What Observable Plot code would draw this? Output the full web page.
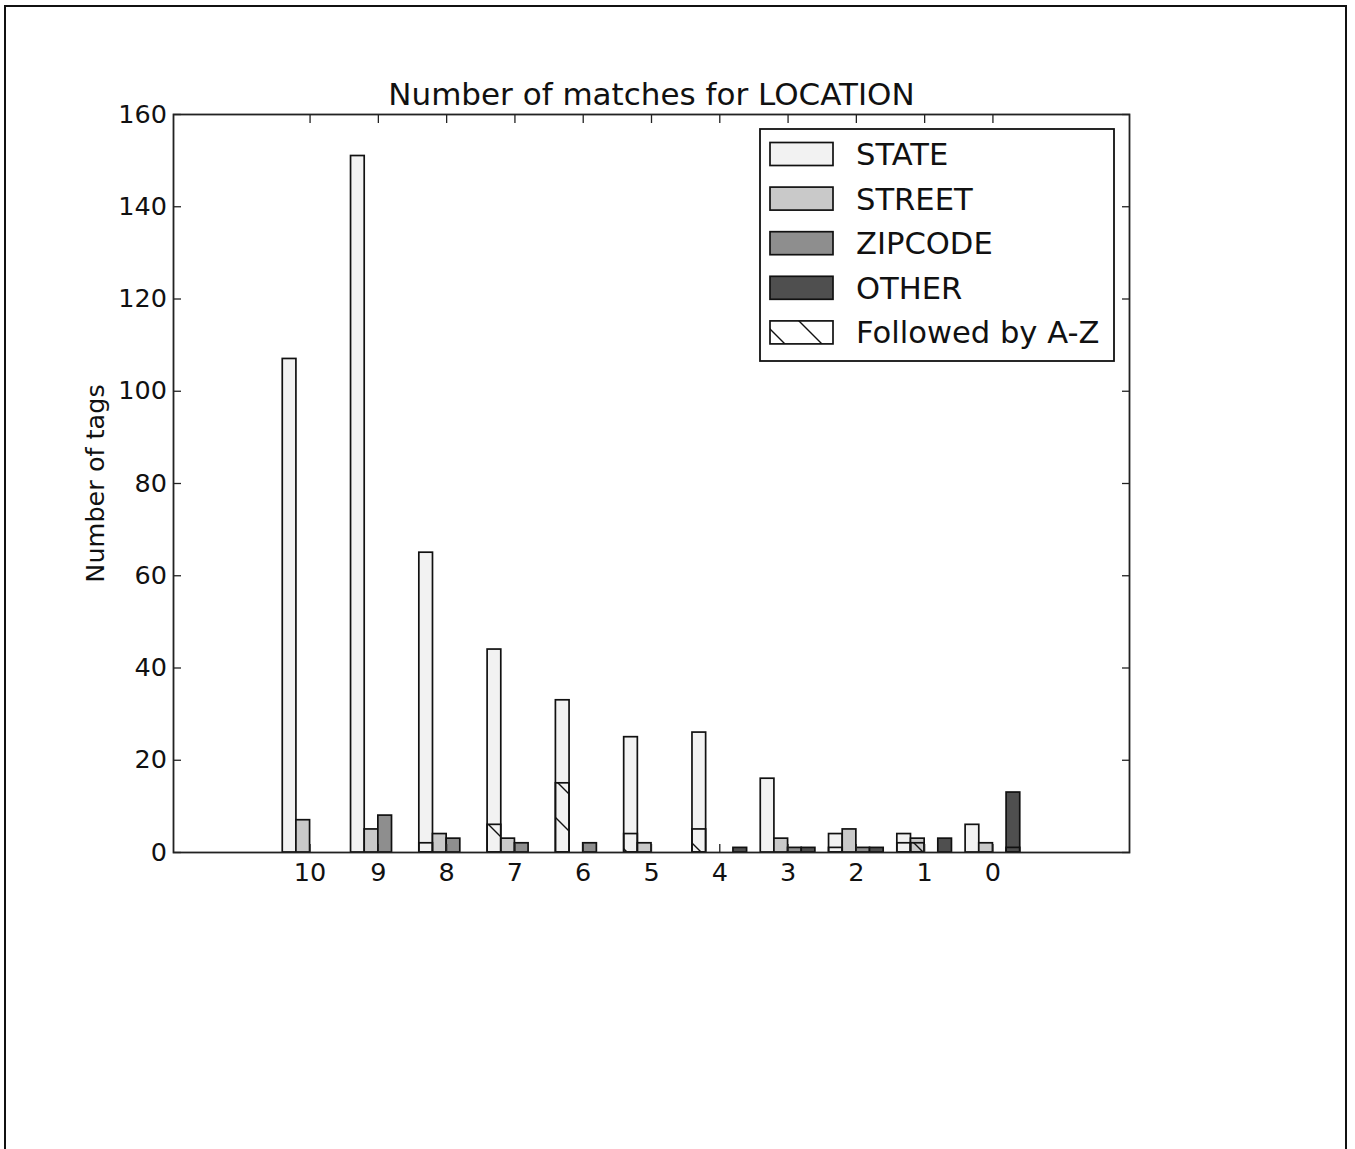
<!DOCTYPE html>
<html><head><meta charset="utf-8">
<script src="https://cdn.jsdelivr.net/npm/d3@7"></script>
<script src="https://cdn.jsdelivr.net/npm/@observablehq/plot@0.6"></script>
<style>
html,body{margin:0;padding:0;background:#fff;overflow:hidden;width:1355px;height:1149px;}
#frame{position:absolute;left:4px;top:5px;width:1339px;height:1200px;border:2px solid #111;border-bottom:none;}
#chart{position:absolute;left:0;top:0;}
</style></head>
<body><div id="frame"></div><div id="chart"></div>
<script>
// ---- data ----
const groups = ["10", "9", "8", "7", "6", "5", "4", "3", "2", "1", "0"];
const categories = ["STATE", "STREET", "ZIPCODE", "OTHER"];
const colors = ["#f2f2f2", "#c9c9c9", "#8e8e8e", "#4f4f4f"];
const state   = [107, 151, 65, 44, 33, 25, 26, 16, 4, 4, 6];
const street  = [7, 5, 4, 3, 0, 2, 0, 3, 5, 3, 2];
const zipcode = [0, 8, 3, 2, 2, 0, 0, 1, 1, 0, 0];
const other   = [0, 0, 0, 0, 0, 0, 1, 1, 1, 3, 13];
// "Followed by A-Z" counts per category
const stateAZ   = [0, 0, 2, 6, 15, 4, 5, 0, 1, 2, 0];
const streetAZ  = [0, 0, 0, 0, 0, 0, 0, 0, 0, 2, 0];
const zipcodeAZ = [0, 0, 0, 0, 0, 0, 0, 0, 0, 0, 0];
const otherAZ   = [0, 0, 0, 0, 0, 0, 0, 0, 0, 0, 1];
const yTicks = [0, 20, 40, 60, 80, 100, 120, 140, 160];
const legendLabels = ["STATE", "STREET", "ZIPCODE", "OTHER", "Followed by A-Z"];
const title = "Number of matches for LOCATION";
const yLabel = "Number of tags";

const values = [state, street, zipcode, other];
const azValues = [stateAZ, streetAZ, zipcodeAZ, otherAZ];
const barW = 0.2;
const rows = [];
groups.forEach((g, i) => categories.forEach((c, k) => rows.push({
  i, g, cat: c, k, value: values[k][i], az: azValues[k][i], color: colors[k]
})));
const X1 = d => d.i - 0.4 + barW * d.k;
const X2 = d => d.i - 0.4 + barW * (d.k + 1);

const plot = Plot.plot({
  width: 1355, height: 1149,
  marginLeft: 173, marginRight: 226, marginTop: 114, marginBottom: 297,
  x: {domain: [-2, 12], axis: null},
  y: {domain: [0, 160], axis: null},
  color: {type: "identity"},
  style: {fontFamily: "'DejaVu Sans', sans-serif", fontSize: "25.5px", color: "#111", background: "transparent", overflow: "visible"},
  marks: [
    Plot.rectY(rows, {x1: X1, x2: X2, y1: 0, y2: "value", fill: "color", stroke: "#111", strokeWidth: 1.7}),
    Plot.rectY(rows.filter(d => d.az > 0), {x1: X1, x2: X2, y1: 0, y2: "az", fill: "url(#hatchAZ)", stroke: "#111", strokeWidth: 1.7}),
    Plot.frame({stroke: "#222", strokeWidth: 1.8}),
    Plot.axisX(d3.range(groups.length), {anchor: "bottom", tickSize: -8, tickPadding: 18.5, tickFormat: i => groups[i], label: null, stroke: "#222", strokeWidth: 1.3}),
    Plot.axisX(d3.range(groups.length), {anchor: "top", tickSize: -8, tickFormat: () => "", label: null, stroke: "#222", strokeWidth: 1.3}),
    Plot.axisY(yTicks, {anchor: "left", tickSize: -8, tickPadding: 14.5, label: null, stroke: "#222", strokeWidth: 1.3}),
    Plot.axisY(yTicks, {anchor: "right", tickSize: -8, tickFormat: () => "", label: null, stroke: "#222", strokeWidth: 1.3}),
    Plot.text([title], {frameAnchor: "top", lineAnchor: "bottom", dy: -10, fontSize: 31, fill: "#111"}),
    Plot.text([yLabel], {frameAnchor: "left", rotate: -90, dx: -70, lineAnchor: "bottom", textAnchor: "middle", fill: "#111"})
  ]
});

const svg = d3.select(plot);
const defs = svg.insert("defs", ":first-child");
const pat = defs.append("pattern").attr("id", "hatchAZ").attr("patternUnits", "userSpaceOnUse")
  .attr("width", 37).attr("height", 37).attr("x", 34).attr("y", 0);
pat.append("path").attr("d", "M-5,-5L42,42M32,-5L42,5M-5,32L5,42")
  .attr("stroke", "#111").attr("stroke-width", 1.4).attr("fill", "none");

// legend
const lg = svg.append("g").attr("font-family", "'DejaVu Sans', sans-serif").attr("font-size", 30.6)
  .attr("fill", "#111").attr("text-anchor", "start");
lg.append("rect").attr("x", 760).attr("y", 129).attr("width", 354).attr("height", 232)
  .attr("fill", "#fff").attr("stroke", "#111").attr("stroke-width", 1.8);
legendLabels.forEach((lab, k) => {
  const cy = 154 + 44.6 * k;
  lg.append("rect").attr("x", 770).attr("y", cy - 11.5).attr("width", 63).attr("height", 23)
    .attr("fill", k < colors.length ? colors[k] : "url(#hatchAZ)").attr("stroke", "#111").attr("stroke-width", 1.7);
  lg.append("text").attr("x", 856).attr("y", cy + 11).attr("text-anchor", "start").text(lab);
});

document.getElementById("chart").appendChild(plot);
</script>
</body></html>
